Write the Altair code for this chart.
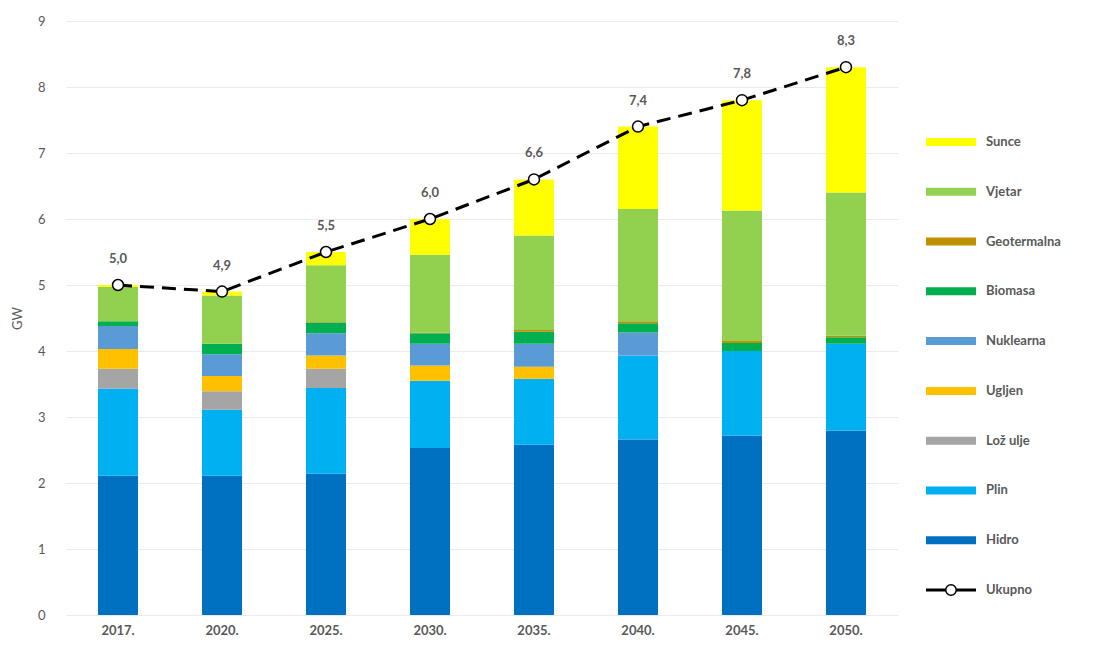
import altair as alt
import pandas as pd

years = ["2017.", "2020.", "2025.", "2030.", "2035.", "2040.", "2045.", "2050."]
sources = ["Hidro", "Plin", "Lož ulje", "Ugljen", "Nuklearna", "Biomasa", "Geotermalna", "Vjetar", "Sunce"]
colors = ["#0070C0", "#00B0F0", "#A5A5A5", "#FFC000", "#5B9BD5", "#00B050", "#BF9000", "#92D050", "#FFFF00"]

hidro = [2.11, 2.11, 2.14, 2.53, 2.58, 2.66, 2.72, 2.79]
plin = [1.32, 1.00, 1.30, 1.02, 1.00, 1.27, 1.28, 1.32]
loz_ulje = [0.30, 0.28, 0.29, 0.0, 0.0, 0.0, 0.0, 0.0]
ugljen = [0.30, 0.23, 0.20, 0.23, 0.18, 0.0, 0.0, 0.0]
nuklearna = [0.35, 0.33, 0.34, 0.33, 0.35, 0.35, 0.0, 0.0]
biomasa = [0.07, 0.16, 0.16, 0.16, 0.18, 0.14, 0.12, 0.10]
geotermalna = [0.0, 0.0, 0.01, 0.01, 0.03, 0.03, 0.03, 0.02]
vjetar = [0.52, 0.73, 0.86, 1.18, 1.43, 1.70, 1.98, 2.17]
sunce = [0.03, 0.06, 0.20, 0.54, 0.85, 1.25, 1.67, 1.90]
ukupno = [5.0, 4.9, 5.5, 6.0, 6.6, 7.4, 7.8, 8.3]

series = [hidro, plin, loz_ulje, ugljen, nuklearna, biomasa, geotermalna, vjetar, sunce]

rows = []
for si, (name, vals) in enumerate(zip(sources, series)):
    for yi, yr in enumerate(years):
        rows.append({"year": yr, "source": name, "value": vals[yi], "order": si, "color": colors[si]})
bar_df = pd.DataFrame(rows)

tot_df = pd.DataFrame({
    "year": years,
    "total": ukupno,
    "label": [f"{v:.1f}".replace(".", ",") for v in ukupno],
})

FONT = "Lato"
GREY = "#595959"

x_enc = alt.X(
    "year:N", sort=years,
    scale=alt.Scale(paddingInner=0.615, paddingOuter=0.3077),
    axis=alt.Axis(title=None, labelAngle=0, labelFontWeight="bold", labelFontSize=13,
                  labelColor=GREY, labelPadding=9, ticks=False, tickSize=0, domain=False, grid=False),
)
y_scale = alt.Scale(domain=[0, 9], nice=False)

bars = alt.Chart(bar_df).mark_bar().encode(
    x=x_enc,
    y=alt.Y("value:Q", stack="zero", scale=y_scale,
            axis=alt.Axis(title="GW", values=list(range(10)), format="d", labelFontSize=13,
                          labelColor=GREY, labelPadding=21, ticks=False, tickSize=0, domain=False,
                          grid=True, gridColor="#ebebeb", titleFontSize=13, titleFontWeight="normal",
                          titleColor=GREY, titlePadding=13)),
    color=alt.Color("color:N", scale=None),
    order=alt.Order("order:Q", sort="ascending"),
)

line = alt.Chart(tot_df).mark_line(color="black", strokeWidth=3, strokeDash=[14, 8]).encode(
    x=alt.X("year:N", sort=years), y=alt.Y("total:Q", scale=y_scale)
)
points = alt.Chart(tot_df).mark_point(filled=True, fill="white", stroke="black", strokeWidth=1.5,
                                      size=120, opacity=1).encode(
    x=alt.X("year:N", sort=years), y=alt.Y("total:Q", scale=y_scale)
)
labels = alt.Chart(tot_df).mark_text(dy=-26, fontWeight="bold", fontSize=13, color=GREY, font=FONT).encode(
    x=alt.X("year:N", sort=years), y=alt.Y("total:Q", scale=y_scale), text="label:N"
)

main = alt.layer(bars, line, points, labels).properties(width=832, height=594)

legend_labels = sources[::-1] + ["Ukupno"]
leg_df = pd.DataFrame({
    "label": legend_labels,
    "color": colors[::-1] + ["#000000"],
    "kind": ["bar"] * len(sources) + ["line"],
})
ly = alt.Y("label:N", sort=legend_labels, axis=None,
           scale=alt.Scale(type="point", padding=0, range=[121, 569]))

leg_base = alt.Chart(leg_df)
leg_bars = leg_base.transform_filter(alt.datum.kind == "bar").mark_rule(strokeWidth=8, strokeCap="butt").encode(
    x=alt.value(0), x2=alt.value(50), y=ly, color=alt.Color("color:N", scale=None)
)
leg_line = leg_base.transform_filter(alt.datum.kind == "line").mark_rule(strokeWidth=3, color="black").encode(
    x=alt.value(0), x2=alt.value(50), y=ly
)
leg_pt = leg_base.transform_filter(alt.datum.kind == "line").mark_point(
    filled=True, fill="white", stroke="black", strokeWidth=1.5, size=110, opacity=1
).encode(x=alt.value(25), y=ly)
leg_text = leg_base.mark_text(align="left", baseline="middle", fontSize=13, fontWeight="bold",
                              color=GREY, font=FONT).encode(
    x=alt.value(60), y=ly, text="label:N"
)
legend = alt.layer(leg_bars, leg_line, leg_pt, leg_text).properties(width=150, height=594)

chart = alt.hconcat(main, legend, spacing=28, bounds="flush").properties(
    padding={"left": 3, "top": 7, "right": 5, "bottom": 2}
).configure_view(stroke=None).configure_axis(labelFont=FONT, titleFont=FONT).configure_text(font=FONT)

chart.save("out.html", embed_options={"renderer": "svg", "actions": False})
